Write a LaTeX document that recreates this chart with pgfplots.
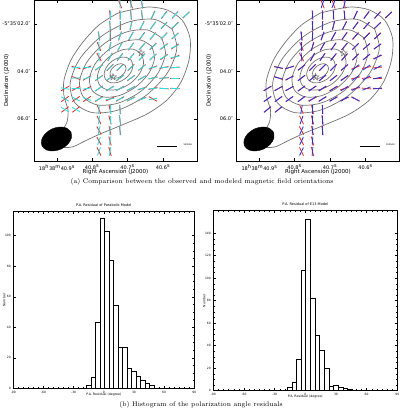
\documentclass[border=0pt]{standalone}
\usepackage{fontspec}
\usepackage{pgfplots}
\usepackage{pgfplotstable}
\pgfplotsset{compat=1.18}
\newfontfamily\dvs{DejaVu Sans}
\definecolor{cyanv}{RGB}{40,225,225}
\definecolor{bluev}{RGB}{45,45,215}
\definecolor{redv}{RGB}{230,45,45}
\definecolor{cgray}{RGB}{115,115,115}

\pgfdeclareplotmark{ostar}{%
  \pgfpathmoveto{\pgfpointpolar{90}{\pgfplotmarksize}}%
  \pgfpathlineto{\pgfpointpolar{126}{0.42\pgfplotmarksize}}%
  \pgfpathlineto{\pgfpointpolar{162}{\pgfplotmarksize}}%
  \pgfpathlineto{\pgfpointpolar{198}{0.42\pgfplotmarksize}}%
  \pgfpathlineto{\pgfpointpolar{234}{\pgfplotmarksize}}%
  \pgfpathlineto{\pgfpointpolar{270}{0.42\pgfplotmarksize}}%
  \pgfpathlineto{\pgfpointpolar{306}{\pgfplotmarksize}}%
  \pgfpathlineto{\pgfpointpolar{342}{0.42\pgfplotmarksize}}%
  \pgfpathlineto{\pgfpointpolar{18}{\pgfplotmarksize}}%
  \pgfpathlineto{\pgfpointpolar{54}{0.42\pgfplotmarksize}}%
  \pgfpathclose
  \pgfusepathqstroke
}

% position (map pixel units), observed angle o, parabolic model p, E13 model e
\pgfplotstableread{
x y o p e
120 4 112 92 72
131 4 108 85 68
142 4 100 95 75
110 15 95 90 86
120 15 92 90 86
131 15 96 92 88
142 15 98 95 90
153 15 68 60 63
164 15 55 50 52
175 15 50 45 47
186 15 45 40 42
110 25.5 95 92 88
120 25.5 90 88 85
131 25.5 78 75 74
142 25.5 64 60 62
153 25.5 55 50 52
164 25.5 50 45 48
175 25.5 45 40 43
99 36 100 95 93
110 36 90 88 86
120 36 72 70 69
131 36 62 58 60
142 36 55 50 53
153 36 50 45 48
164 36 47 42 45
175 36 44 40 42
99 46.5 112 92 88
110 46.5 78 80 70
120 46.5 62 60 60
131 46.5 55 54 55
142 46.5 50 48 50
153 46.5 45 42 46
164 46.5 41 35 42
175 46.5 35 25 36
99 57 118 92 95
110 57 62 60 62
120 57 54 52 55
131 57 50 48 52
142 57 48 46 50
153 57 44 42 47
164 57 38 30 40
175 57 22 12 30
76 67.5 165 5 170
87 67.5 20 5 15
99 67.5 38 32 40
110 67.5 45 42 46
120 67.5 45 42 45
131 67.5 44 42 44
142 67.5 40 38 42
153 67.5 22 12 40
164 67.5 12 6 35
175 67.5 5 3 28
76 78 160 2 165
87 78 30 18 25
99 78 36 32 40
110 78 38 35 42
120 78 38 35 42
131 78 36 34 40
142 78 30 30 38
153 78 14 10 35
164 78 5 5 30
175 78 0 0 12
65 88.5 30 170 32
76 88.5 28 2 30
87 88.5 28 8 30
99 88.5 35 32 36
110 88.5 32 28 36
120 88.5 30 26 35
131 88.5 28 24 34
142 88.5 18 12 32
153 88.5 12 6 28
164 88.5 175 0 22
175 88.5 178 0 5
65 99 35 150 36
76 99 35 152 36
87 99 35 160 36
99 99 35 28 38
110 99 25 8 34
120 99 30 22 34
131 99 28 24 32
142 99 22 18 30
153 99 150 10 155
65 109.5 38 150 40
76 109.5 38 150 40
99 109.5 112 85 80
110 109.5 102 90 88
120 109.5 95 92 90
99 120 115 82 70
110 120 105 90 88
120 120 98 95 92
99 130.5 118 78 66
110 130.5 102 88 86
120 130.5 98 92 90
99 141 118 72 65
110 141 105 85 86
99 151.5 115 70 64
110 151.5 105 82 85
}\vecs

\newcommand{\contours}{%
\addplot[cgray, smooth, line width=0.7pt] coordinates {(118,13) (135,9) (150,7) (167,10) (182,20) (190,38) (189,60) (181,82) (167,100) (147,114) (122,125) (100,134) (85,141) (72,147) (60,146) (62,132) (67,122) (68,110) (64,96) (64,80) (71,60) (83,42) (99,25) (118,13)};
\addplot[cgray, smooth, line width=0.7pt] coordinates {(172.2,29.3) (176.8,49.0) (167.2,73.2) (145.8,95.6) (118.4,110.0) (92.4,112.6) (74.8,102.7) (70.2,83.0) (79.8,58.8) (101.2,36.4) (128.6,22.0) (154.6,19.4) (172.2,29.3)};
\addplot[cgray, smooth, line width=0.7pt] coordinates {(161.7,38.0) (165.4,53.9) (157.7,73.5) (140.6,91.5) (118.6,103.0) (97.6,105.0) (83.3,97.0) (79.6,81.1) (87.3,61.5) (104.4,43.5) (126.4,32.0) (147.4,30.0) (161.7,38.0)};
\addplot[cgray, smooth, line width=0.7pt] coordinates {(151.6,46.2) (154.5,58.4) (148.8,73.3) (135.8,86.9) (119.2,95.6) (103.3,97.0) (92.4,90.8) (89.5,78.6) (95.2,63.7) (108.2,50.1) (124.8,41.4) (140.7,40.0) (151.6,46.2)};
\addplot[cgray, smooth, line width=0.7pt] coordinates {(141.3,53.8) (143.6,62.7) (139.7,73.4) (130.7,83.1) (119.0,89.1) (107.6,89.8) (99.7,85.2) (97.4,76.3) (101.3,65.6) (110.3,55.9) (122.0,49.9) (133.4,49.2) (141.3,53.8)};
\addplot[cgray, smooth, line width=0.7pt] coordinates {(131.3,60.4) (132.9,66.1) (130.6,72.8) (125.1,78.8) (117.8,82.4) (110.7,82.7) (105.7,79.6) (104.1,73.9) (106.4,67.2) (111.9,61.2) (119.2,57.6) (126.3,57.3) (131.3,60.4)};
\addplot[cgray, smooth, line width=0.7pt] coordinates {(125.2,65.6) (126.0,68.7) (124.7,72.4) (121.6,75.8) (117.5,77.9) (113.6,78.1) (110.8,76.4) (110.0,73.3) (111.3,69.6) (114.4,66.2) (118.5,64.1) (122.4,63.9) (125.2,65.6)};
}

\newcommand{\vectors}[2]{%
\addplot[redv, line width=0.85pt, quiver={u={4.6*cos(\thisrow{o})}, v={-4.6*sin(\thisrow{o})}}] table {\vecs};
\addplot[redv, line width=0.85pt, quiver={u={-4.6*cos(\thisrow{o})}, v={4.6*sin(\thisrow{o})}}] table {\vecs};
\addplot[#1, line width=0.85pt, quiver={u={4.3*cos(\thisrow{#2})}, v={-4.3*sin(\thisrow{#2})}}] table {\vecs};
\addplot[#1, line width=0.85pt, quiver={u={-4.3*cos(\thisrow{#2})}, v={4.3*sin(\thisrow{#2})}}] table {\vecs};
}

\newcommand{\beamstars}{%
\addplot[smooth, fill=black, draw=black] coordinates {(71.0,132.2) (71.4,138.1) (67.8,144.2) (61.2,149.0) (53.3,151.0) (46.3,149.9) (42.0,145.8) (41.6,139.9) (45.2,133.8) (51.8,129.0) (59.7,127.0) (66.7,128.1) (71.0,132.2)};
\addplot[only marks, mark=ostar, mark size=3.6pt, cgray, line width=0.45pt] coordinates {(113,77) (141,53)};
\addplot[black, line width=0.8pt] coordinates {(157,146) (177,146)};
\node[font=\fontsize{2.2}{2.5}\dvs, anchor=west] at (axis cs:180,145) {5000AU};
}

\pgfplotsset{
 mapax/.style={scale only axis, width=163pt, height=161pt,
  xmin=34, xmax=197, ymin=0, ymax=161, y dir=reverse, clip=true,
  tick align=inside, major tick length=3pt, minor tick length=1.5pt,
  tick style={black, line width=0.5pt},
  axis line style={line width=0.6pt},
  xtick={57,92,127.5,163},
  xticklabels={18\textsuperscript{h}38\textsuperscript{m}40.9\textsuperscript{s}, 40.8\textsuperscript{s}, 40.7\textsuperscript{s}, 40.6\textsuperscript{s}},
  ytick={24,71.3,119},
  yticklabels={-5°35′02.0″, 04.0″, 06.0″},
  minor x tick num=4, minor y tick num=4,
  ticklabel style={font=\fontsize{5}{6}\dvs},
  xlabel={Right Ascension (J2000)}, ylabel={Declination (J2000)},
  xlabel style={at={(axis description cs:0.5,-0.068)}, anchor=center, font=\fontsize{5.5}{6.5}\dvs},
  ylabel style={at={(axis description cs:-0.168,0.5)}, rotate=0, anchor=center, font=\fontsize{5.5}{6.5}\dvs}},
 histax/.style={scale only axis, xmin=-90, xmax=90, ymin=0,
  tick align=inside, major tick length=2.5pt, minor tick length=1.2pt,
  tick style={black, line width=0.4pt},
  axis line style={line width=0.8pt},
  xtick={-90,-60,...,90}, minor x tick num=5, minor y tick num=3,
  /pgf/number format/assume math mode=true,
  ticklabel style={font=\fontsize{3}{3.5}\dvs},
  xticklabel style={yshift=1pt}, yticklabel style={xshift=1pt},
  title style={font=\fontsize{3.5}{4}\dvs, yshift=-4pt},
  xlabel={P.A. Residual (degree)}, ylabel={Number},
  xlabel style={at={(axis description cs:0.5,-0.035)}, anchor=center, font=\fontsize{3.2}{3.5}\dvs},
  ylabel style={at={(axis description cs:-0.05,0.5)}, anchor=center, font=\fontsize{3.2}{3.5}\dvs}}
}

\begin{document}
\begin{tikzpicture}
\useasboundingbox (0,0) rectangle (400pt,414pt);

\begin{axis}[mapax, at={(34pt,253pt)}, anchor=south west]
\contours
\vectors{cyanv}{p}
\beamstars
\end{axis}

\begin{axis}[mapax, at={(236.5pt,253pt)}, anchor=south west]
\contours
\vectors{bluev}{e}
\beamstars
\end{axis}

\node[font=\fontsize{6.7}{8}\selectfont] at (202pt,232pt) {(a) Comparison between the observed and modeled magnetic field orientations};

\begin{axis}[histax, at={(13.3pt,25.7pt)}, anchor=south west, width=181pt, height=176.6pt,
  ymax=115.7, ytick={0,20,...,100}, title={P.A. Residual of Parabolic Model}]
\addplot[ybar interval, fill=white, draw=black, line width=0.8pt] coordinates {
(-17.0,2) (-12.53,7) (-8.07,43) (-3.6,111) (0.87,103) (5.33,84) (9.8,54) (14.27,27) (18.73,27) (23.2,13) (27.67,11) (32.13,8) (36.6,5) (41.07,3) (45.53,2) (50.0,0)};
\end{axis}

\begin{axis}[histax, at={(213.3pt,23.3pt)}, anchor=south west, width=184pt, height=180pt,
  ymax=160, ytick={0,20,...,140}, title={P.A. Residual of E13 Model}]
\addplot[ybar interval, fill=white, draw=black, line width=0.8pt] coordinates {
(-17.6,3) (-13.06,7) (-8.52,28) (-3.98,107) (0.56,152) (5.1,82) (9.64,49) (14.18,36) (18.72,20) (23.26,4) (27.8,5) (32.34,3) (36.88,2) (41.42,1) (45.96,0)};
\end{axis}

\node[font=\fontsize{6.7}{8}\selectfont] at (201pt,9pt) {(b) Histogram of the polarization angle residuals};
\end{tikzpicture}
\end{document}
